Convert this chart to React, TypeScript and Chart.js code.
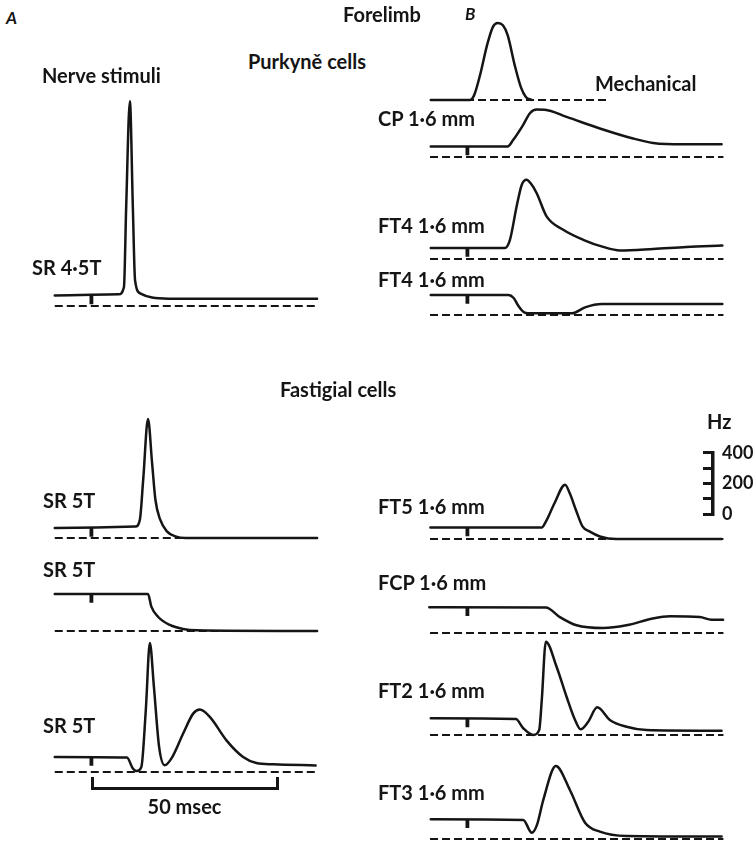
import React, { useEffect, useRef } from "react";
import { Chart, registerables } from "chart.js";

Chart.register(...registerables);

// ---------------- data (time in msec from stimulus, rate in Hz) ----------------
// A: nerve stimuli
const A1_T = [-9.9, 7.4, 8.8, 9.4, 10.4, 11.2, 11.8, 13.3, 16.4, 20.9, 61];
const A1_HZ = [58, 64, 104, 541, 1119, 541, 140, 68, 46, 40, 40];

const A2_T = [-9.9, 11.9, 13.1, 14.0, 15.3, 16.4, 17.3, 18.6, 20.4, 22.7, 25.4, 61];
const A2_HZ = [55, 63, 100, 319, 650, 410, 209, 100, 36, 9, 0, 0];

const A3_T = [-9.9, 15.3, 16.2, 18.0, 21.2, 24.8, 28.4, 61];
const A3_HZ = [202, 202, 133, 78, 33, 11, 4, 0];

const A4_T = [-9.9, 9.6, 11.2, 12.2, 13.5, 14.7, 15.8, 16.9, 18.3, 19.8, 21.6, 24.8, 27.5, 29.3, 32.0, 36.5, 41.0, 44.6, 49.1, 60.6];
const A4_HZ = [82, 79, 19, 5, 27, 337, 705, 464, 137, 37, 73, 210, 319, 341, 301, 173, 82, 49, 42, 36];

// B: mechanical stimulus (percent of peak) and responses
const MECH_T = [-9.9, 0.7, 1.8, 3.4, 5.3, 6.9, 8.2, 9.6, 10.9, 12.8, 14.5, 15.8, 17.4];
const MECH_AMP = [0, 0, 6, 32, 71, 95, 100, 97, 84, 45, 16, 4, 0];

const B2_T = [-9.9, 10.9, 12.3, 15.0, 16.9, 18.7, 20.9, 26.8, 35.8, 44.8, 50.2, 58.3, 68.7];
const B2_HZ = [58, 58, 91, 173, 239, 259, 258, 219, 156, 101, 77, 69, 69];

const B3_T = [-9.9, 10.1, 11.5, 13.3, 14.7, 16.0, 17.2, 18.7, 21.4, 25.9, 31.3, 36.7, 41.2, 50.2, 59.2, 68.9];
const B3_HZ = [60, 60, 105, 287, 406, 433, 411, 361, 233, 160, 105, 66, 47, 55, 66, 74];

const B4_T = [-9.9, 11.1, 12.5, 13.8, 15.2, 16.4, 28.3, 31.8, 36.4, 68.9];
const B4_HZ = [109, 109, 93, 49, 16, 9, 9, 42, 60, 60];

const B5_T = [-10, 20.1, 21.2, 23.6, 26.4, 27.7, 29.3, 31.1, 33.1, 35.8, 40.3, 68.7];
const B5_HZ = [63, 63, 95, 198, 297, 248, 160, 69, 40, 14, 0, 0];

const B6_T = [-10.3, 21.2, 25.0, 29.5, 36.7, 43.0, 50.1, 54.7, 62.8, 66.0, 69.1];
const B6_HZ = [141, 140, 87, 42, 27, 42, 79, 91, 87, 73, 73];

const B7_T = [-9.9, 13.1, 15.1, 17.8, 19.4, 20.1, 21.2, 24.1, 26.8, 29.1, 30.6, 32.6, 35.1, 38.5, 43.0, 48.4, 68.7];
const B7_HZ = [91, 87, 37, 0, 27, 191, 510, 373, 209, 82, 31, 71, 151, 82, 45, 27, 23];

const B8_T = [-9.9, 15.1, 17.4, 18.8, 20.5, 23.9, 27.7, 31.8, 35.8, 43.0, 68.7];
const B8_HZ = [108, 104, 34, 77, 213, 399, 268, 89, 40, 16, 13];

// scale bars
const HZ_BAR_TICKS = [0, 100, 200, 300, 400];
const HZ_BAR_LABELS = [0, 200, 400];
const TIME_BAR_MS = 50;
const TIME_BAR_LABEL = "50 msec";
const STIM_MARK_HZ = 48;

// ---------------- layout / style ----------------
const INK = "#151515";
const FONT = "Lato, 'Open Sans', sans-serif";
const PX_PER_MS = 3.7;
const PX_PER_HZ = 0.183;
const PX_PER_PCT = 0.77;
const X_MIN = -12;
const BOX_W = 311;
const ABOVE = 232;
const BELOW = 14;
const COLS: Record<string, { stimX: number; win: [number, number] }> = {
  A: { stimX: 91.8, win: [-9.9, 61] },
  B: { stimX: 467.6, win: [-10.1, 69.2] },
};

type Panel = { key: string; col: string; zeroY: number; t: number[]; v: number[]; pxPerUnit?: number; stim?: boolean; dashEnd?: number };

const PANELS: Panel[] = [
  { key: "a1", col: "A", zeroY: 305.7, t: A1_T, v: A1_HZ, stim: true },
  { key: "a2", col: "A", zeroY: 538.3, t: A2_T, v: A2_HZ, stim: true },
  { key: "a3", col: "A", zeroY: 631, t: A3_T, v: A3_HZ, stim: true },
  { key: "a4", col: "A", zeroY: 771.7, t: A4_T, v: A4_HZ, stim: true },
  { key: "mech", col: "B", zeroY: 100, t: MECH_T, v: MECH_AMP, pxPerUnit: PX_PER_PCT, stim: false, dashEnd: 38.5 },
  { key: "b2", col: "B", zeroY: 156.7, t: B2_T, v: B2_HZ, stim: true },
  { key: "b3", col: "B", zeroY: 259.3, t: B3_T, v: B3_HZ, stim: true },
  { key: "b4", col: "B", zeroY: 315, t: B4_T, v: B4_HZ, stim: true },
  { key: "b5", col: "B", zeroY: 539.3, t: B5_T, v: B5_HZ, stim: true },
  { key: "b6", col: "B", zeroY: 632.7, t: B6_T, v: B6_HZ, stim: true },
  { key: "b7", col: "B", zeroY: 735, t: B7_T, v: B7_HZ, stim: true },
  { key: "b8", col: "B", zeroY: 839, t: B8_T, v: B8_HZ, stim: true },
];

type Label = { text: string; x: number; cy: number; italic?: boolean; size?: number };
const LABELS: Label[] = [
  { text: "A", x: 6, cy: 18, italic: true, size: 17 },
  { text: "Forelimb", x: 343, cy: 14 },
  { text: "B", x: 465, cy: 14, italic: true, size: 17 },
  { text: "Purkyně cells", x: 248, cy: 61 },
  { text: "Nerve stimuli", x: 42, cy: 75 },
  { text: "Mechanical", x: 595, cy: 83 },
  { text: "SR 4·5T", x: 32, cy: 267 },
  { text: "CP 1·6 mm", x: 378, cy: 118 },
  { text: "FT4 1·6 mm", x: 378, cy: 225 },
  { text: "FT4 1·6 mm", x: 378, cy: 279 },
  { text: "Fastigial cells", x: 280, cy: 389 },
  { text: "SR 5T", x: 43, cy: 500 },
  { text: "Hz", x: 707, cy: 421 },
  { text: "FT5 1·6 mm", x: 378, cy: 506 },
  { text: "SR 5T", x: 43, cy: 569 },
  { text: "FCP 1·6 mm", x: 378, cy: 582 },
  { text: "FT2 1·6 mm", x: 378, cy: 690 },
  { text: "SR 5T", x: 43, cy: 725 },
  { text: "FT3 1·6 mm", x: 378, cy: 792 },
];

type Box = { left: number; top: number; width: number; height: number };

function ChartBox({ box, build }: { box: Box; build: () => any }) {
  const ref = useRef<HTMLCanvasElement>(null);
  useEffect(() => {
    const chart = new Chart(ref.current as HTMLCanvasElement, build());
    return () => chart.destroy();
  }, []);
  return (
    <canvas
      ref={ref}
      width={box.width}
      height={box.height}
      style={{ position: "absolute", left: box.left, top: box.top, width: box.width, height: box.height }}
    />
  );
}

const baseOptions = {
  animation: false,
  responsive: false,
  maintainAspectRatio: false,
  events: [],
  plugins: { legend: { display: false }, tooltip: { enabled: false }, title: { display: false } },
  elements: { point: { radius: 0 } },
};

function panelBox(p: Panel): Box {
  const c = COLS[p.col];
  return { left: c.stimX + X_MIN * PX_PER_MS, top: p.zeroY - ABOVE, width: BOX_W, height: ABOVE + BELOW };
}

function panelConfig(p: Panel) {
  const c = COLS[p.col];
  const ppu = p.pxPerUnit ?? PX_PER_HZ;
  const pts = p.t.map((t, i) => ({ x: t, y: p.v[i] }));
  const dashEnd = p.dashEnd ?? c.win[1];
  const datasets: any[] = [
    {
      data: [{ x: c.win[0], y: 0 }, { x: dashEnd, y: 0 }],
      borderColor: INK,
      borderWidth: 2,
      borderDash: [8, 4],
      pointRadius: 0,
    },
    {
      data: pts,
      borderColor: INK,
      borderWidth: 2.5,
      cubicInterpolationMode: "monotone",
      pointRadius: 0,
      borderJoinStyle: "round",
      borderCapStyle: "round",
    },
  ];
  if (p.stim) {
    datasets.push({
      data: [{ x: 0, y: p.v[0] }, { x: 0, y: p.v[0] - STIM_MARK_HZ }],
      borderColor: INK,
      borderWidth: 3.8,
      pointRadius: 0,
    });
  }
  return {
    type: "line",
    data: { datasets },
    options: {
      ...baseOptions,
      layout: { padding: 0 },
      scales: {
        x: { type: "linear", display: false, min: X_MIN, max: X_MIN + BOX_W / PX_PER_MS },
        y: { type: "linear", display: false, min: -BELOW / ppu, max: ABOVE / ppu },
      },
    },
  };
}

// Hz calibration bar (axis line x = 712.7, 0 Hz at y = 520)
const HZ_AXIS_X = 712.7;
const HZ_ZERO_Y = 520;
const HZ_PAD = 14;
const HZ_TICK_LEN = 10;
const HZ_AXIS_W = 44;
const hzBox: Box = {
  left: HZ_AXIS_X - HZ_TICK_LEN,
  top: HZ_ZERO_Y - HZ_BAR_TICKS[HZ_BAR_TICKS.length - 1] * PX_PER_HZ - HZ_PAD,
  width: HZ_TICK_LEN + HZ_AXIS_W,
  height: HZ_BAR_TICKS[HZ_BAR_TICKS.length - 1] * PX_PER_HZ + 2 * HZ_PAD,
};
function hzConfig() {
  return {
    type: "line",
    data: { datasets: [] },
    options: {
      ...baseOptions,
      layout: { padding: { top: HZ_PAD, bottom: HZ_PAD, left: 0, right: 0 } },
      scales: {
        x: { type: "linear", display: false, min: 0, max: 1 },
        y: {
          type: "linear",
          position: "right",
          min: HZ_BAR_TICKS[0],
          max: HZ_BAR_TICKS[HZ_BAR_TICKS.length - 1],
          afterFit: (s: any) => { s.width = HZ_AXIS_W; },
          afterBuildTicks: (s: any) => { s.ticks = HZ_BAR_TICKS.map((v) => ({ value: v })); },
          ticks: {
            autoSkip: false,
            padding: 9,
            color: INK,
            font: { family: FONT, size: 18, weight: "bold" },
            callback: (v: any) => (HZ_BAR_LABELS.includes(Number(v)) ? String(v) : ""),
          },
          grid: { drawOnChartArea: true, drawTicks: false, color: INK, lineWidth: 3 },
          border: { display: true, color: INK, width: 3.5 },
        },
      },
    },
  };
}

// 50 msec time bar
const TB_LEFT = 91.7;
const TB_Y = 788;
const TB_TICK = 11;
const TB_PAD_X = 4;
const TB_AXIS_H = 32;
const timeBox: Box = {
  left: TB_LEFT - TB_PAD_X,
  top: TB_Y - TB_TICK - 2,
  width: TIME_BAR_MS * PX_PER_MS + 2 * TB_PAD_X,
  height: TB_TICK + 2 + TB_AXIS_H,
};
function timeConfig() {
  return {
    type: "line",
    data: { datasets: [] },
    options: {
      ...baseOptions,
      layout: { padding: { top: 2, bottom: 0, left: TB_PAD_X, right: TB_PAD_X } },
      scales: {
        y: { type: "linear", display: false, min: 0, max: 1 },
        x: {
          type: "linear",
          position: "bottom",
          min: 0,
          max: TIME_BAR_MS,
          afterFit: (s: any) => { s.height = TB_AXIS_H; },
          afterBuildTicks: (s: any) => { s.ticks = [{ value: 0 }, { value: TIME_BAR_MS }]; },
          ticks: { display: false },
          grid: { drawOnChartArea: true, drawTicks: false, color: INK, lineWidth: 3 },
          border: { display: true, color: INK, width: 3 },
          title: {
            display: true,
            text: TIME_BAR_LABEL,
            color: INK,
            font: { family: FONT, size: 20, weight: "bold", lineHeight: 1.2 },
            padding: { top: 0, bottom: 0 },
          },
        },
      },
    },
  };
}

export default function App() {
  useEffect(() => {
    document.body.style.margin = "0";
  }, []);
  return (
    <div
      style={{
        position: "fixed",
        left: 0,
        top: 0,
        width: 756,
        height: 842,
        overflow: "hidden",
        background: "#ffffff",
        fontFamily: FONT,
        color: INK,
      }}
    >
      {PANELS.map((p) => (
        <ChartBox key={p.key} box={panelBox(p)} build={() => panelConfig(p)} />
      ))}
      <ChartBox box={hzBox} build={hzConfig} />
      <ChartBox box={timeBox} build={timeConfig} />
      {LABELS.map((l, i) => (
        <div
          key={i}
          style={{
            position: "absolute",
            left: l.x,
            top: l.cy - 12,
            height: 24,
            lineHeight: "24px",
            fontSize: l.size ?? 20,
            fontWeight: 700,
            fontStyle: l.italic ? "italic" : "normal",
            whiteSpace: "nowrap",
          }}
        >
          {l.text}
        </div>
      ))}
    </div>
  );
}
